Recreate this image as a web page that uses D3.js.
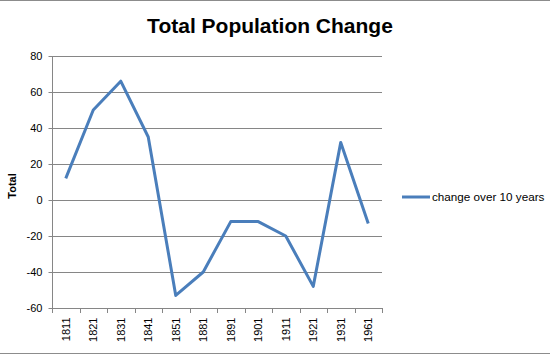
<!DOCTYPE html>
<html><head><meta charset="utf-8">
<script src="https://cdn.jsdelivr.net/npm/d3@7/dist/d3.min.js"></script>
<style>body{margin:0;background:#fff}svg{display:block}</style>
</head><body>
<svg id="c" width="550" height="355"></svg>
<script>
const years = ["1811","1821","1831","1841","1851","1881","1891","1901","1911","1921","1931","1961"];
const changes = [12, 50, 66, 35, -53, -40, -12, -12, -20, -48, 32, -13];
const yTicks = [-60, -40, -20, 0, 20, 40, 60, 80];
const seriesName = "change over 10 years";
const titleText = "Total Population Change";
const yTitle = "Total";

const svg = d3.select("#c");
const L = 52, R = 382, T = 56, B = 308;
const x = d3.scaleBand().domain(years).range([L, R]);
const y = d3.scaleLinear().domain([-60, 80]).range([B, T]);
const font = "'Liberation Sans', Arial, sans-serif";

// outer border lines
svg.append("line").attr("x1",0).attr("x2",550).attr("y1",0.5).attr("y2",0.5).attr("stroke","#8c8c8c");
svg.append("line").attr("x1",0).attr("x2",550).attr("y1",353.5).attr("y2",353.5).attr("stroke","#8c8c8c");

// gridlines
svg.append("g").selectAll("line").data(yTicks.filter(d=>d!==-60)).join("line")
  .attr("x1", L).attr("x2", R)
  .attr("y1", d=>Math.round(y(d))+0.5).attr("y2", d=>Math.round(y(d))+0.5)
  .attr("stroke", "#868686").attr("stroke-width", 1);

// y axis
const ya = svg.append("g").attr("transform", `translate(${L+0.5},0)`)
  .call(d3.axisLeft(y).tickValues(yTicks).tickFormat(d=>String(d)).tickSize(4).tickPadding(6));
ya.select(".domain").attr("stroke","#868686").attr("d", `M-0,${T}V${B}`);
ya.selectAll(".tick line").attr("stroke","#868686");
ya.selectAll(".tick").attr("transform", d=>`translate(0,${Math.round(y(d))+0.5})`);
ya.selectAll("text").attr("fill","#000").style("font-family",font).style("font-size","11px");

// x axis
const xa = svg.append("g").attr("transform", `translate(0,${B+0.5})`)
  .call(d3.axisBottom(x).tickSize(0).tickPadding(0));
xa.select(".domain").attr("stroke","#868686").attr("d", `M${L},0H${R}`);
xa.selectAll("text").attr("fill","#000").style("font-family",font).style("font-size","11px")
  .attr("text-anchor","end").attr("transform","rotate(-90)").attr("x",-9).attr("y",0).attr("dy","0.35em");
// category boundary tick marks
svg.append("g").selectAll("line").data(d3.range(years.length+1)).join("line")
  .attr("x1", i=>Math.round(L + i*x.step())+0.5).attr("x2", i=>Math.round(L + i*x.step())+0.5)
  .attr("y1", B).attr("y2", B+5).attr("stroke","#868686");

// line
const line = d3.line().x((d,i)=>x(years[i])+x.bandwidth()/2).y(d=>y(d));
svg.append("path").datum(changes).attr("d", line)
  .attr("fill","none").attr("stroke","#4a7ebb").attr("stroke-width",3).attr("stroke-linejoin","round");

// title
svg.append("text").attr("x", 270).attr("y", 33).attr("text-anchor","middle")
  .style("font-family",font).style("font-weight","bold").style("font-size","21px").text(titleText);

// y title
svg.append("text").attr("transform","translate(16,186) rotate(-90)").attr("text-anchor","middle")
  .style("font-family",font).style("font-weight","bold").style("font-size","11px").text(yTitle);

// legend
svg.append("line").attr("x1",402).attr("x2",430).attr("y1",197).attr("y2",197)
  .attr("stroke","#4a7ebb").attr("stroke-width",3);
svg.append("text").attr("x",432).attr("y",197).attr("dy","0.35em")
  .style("font-family",font).style("font-size","11.7px").text(seriesName);
</script>
</body></html>
